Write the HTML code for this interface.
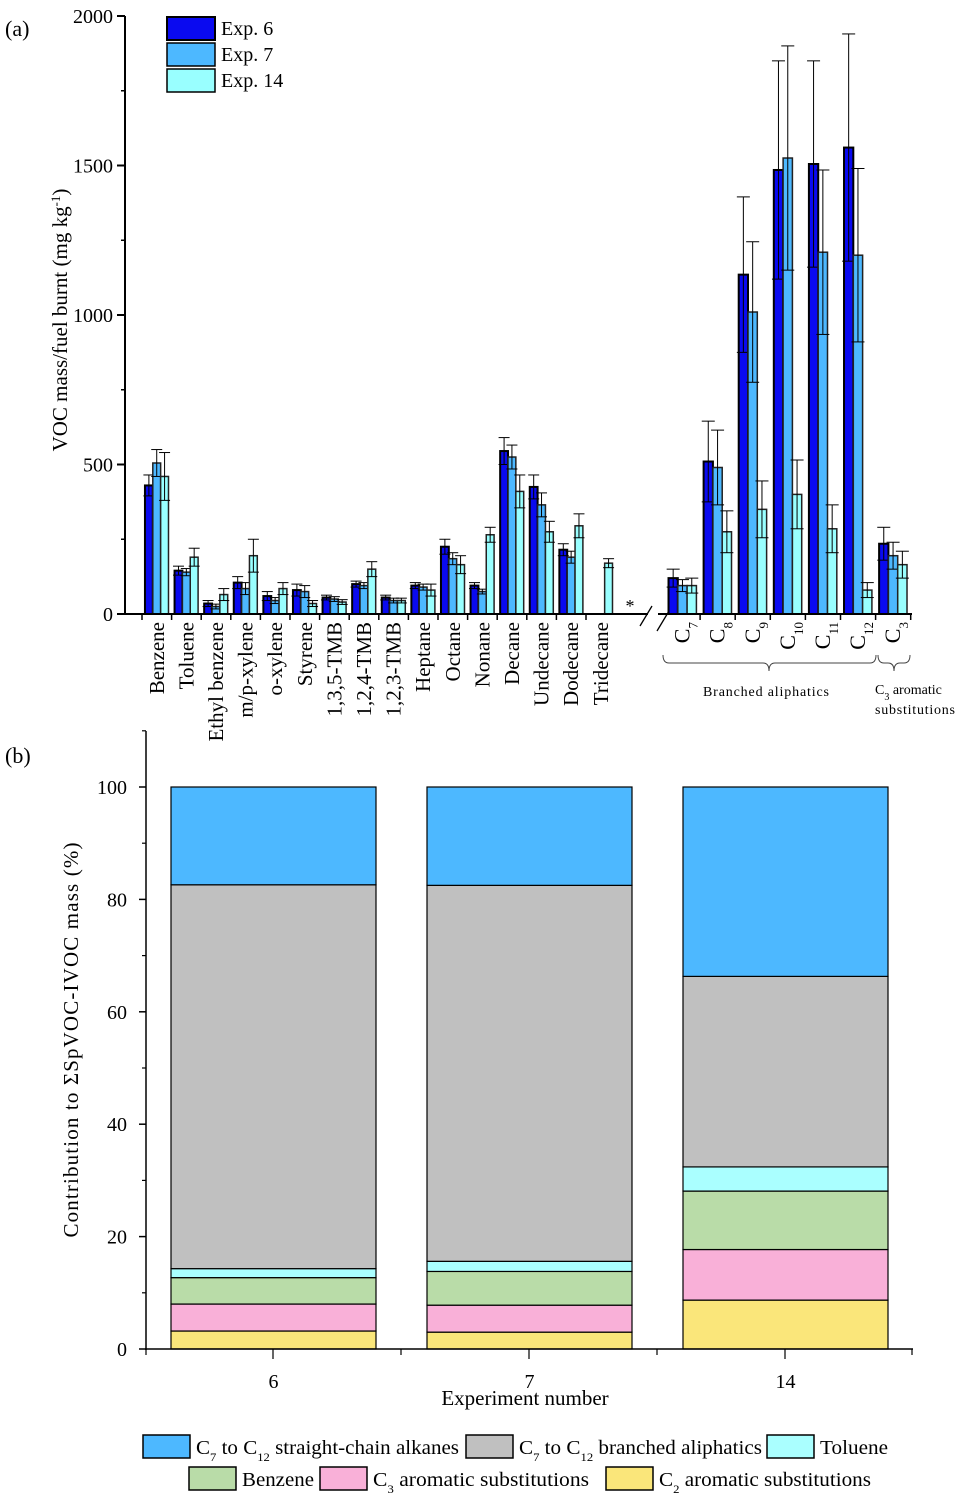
<!DOCTYPE html>
<html><head><meta charset="utf-8"><style>
body{margin:0;background:#fff}
svg{display:block;font-family:"Liberation Serif",serif}
</style></head><body>
<svg id="svg" width="963" height="1498" viewBox="0 0 963 1498" xmlns="http://www.w3.org/2000/svg">
<g id="top"></g>
<g id="bot"></g>
</svg>
<script>
const NS="http://www.w3.org/2000/svg";
// ---- Chart (a) data ----
const catsLeft=["Benzene","Toluene","Ethyl benzene","m/p-xylene","o-xylene","Styrene","1,3,5-TMB","1,2,4-TMB","1,2,3-TMB","Heptane","Octane","Nonane","Decane","Undecane","Dodecane","Tridecane"];
const catsRight=["7","8","9","10","11","12","3"];
const exp6=[430,145,35,105,60,80,55,100,55,95,225,95,545,425,215,0,120,510,1135,1485,1505,1560,235];
const exp7=[505,140,25,85,45,75,50,95,45,90,185,75,525,365,190,0,95,490,1010,1525,1210,1200,195];
const exp14=[460,190,65,195,85,35,40,150,45,80,165,265,410,275,295,170,95,275,350,400,285,80,165];
const err6=[35,15,10,20,15,20,8,10,8,10,25,10,45,40,20,0,30,135,260,365,345,380,55];
const err7=[45,12,8,20,10,20,8,10,8,10,20,8,40,40,20,0,20,125,235,375,275,290,45];
const err14=[80,30,20,55,20,10,8,25,8,20,30,25,55,35,40,15,25,70,95,115,80,25,45];
const yTicksA=[0,500,1000,1500,2000];
// ---- Chart (b) data ----
const expNames=["6","7","14"];
const c2Arom=[3.2,3.0,8.7];
const c3Arom=[4.8,4.8,9.0];
const benzene=[4.7,6.0,10.4];
const toluene=[1.6,1.8,4.3];
const branched=[68.3,66.9,33.9];
const straight=[17.4,17.5,33.7];
const yTicksB=[0,20,40,60,80,100];

function el(p,tag,attrs,txt){const e=document.createElementNS(NS,tag);for(const k in attrs)e.setAttribute(k,attrs[k]);if(txt!==undefined)e.textContent=txt;p.appendChild(e);return e;}
function rich(t,parts){parts.forEach(p=>{if(typeof p==='string')el(t,'tspan',{},p);else el(t,'tspan',{'font-size':p[1],'baseline-shift':p[2]},p[0]);});}

// ===== Chart (a) =====
const T=document.getElementById('top');
const y0A=614,yTopA=16,maxA=2000;
const yA=v=>y0A-(v/maxA)*(y0A-yTopA);
const leftX0=142,leftW=29.6,rightX0=665,rightW=35.1;
function slot(i){return i<16?{x:leftX0+i*leftW,w:leftW}:{x:rightX0+(i-16)*rightW,w:rightW};}
const colA=["#0a0af0","#4db8ff","#99ffff"];
const series=[exp6,exp7,exp14],errs=[err6,err7,err14];
for(let i=0;i<exp6.length;i++){
  const s=slot(i);const bw=s.w*0.265,off=s.w*0.1;
  for(let k=0;k<3;k++){
    const v=series[k][i];if(v<=0)continue;
    const bx=s.x+off+k*bw;
    const r=el(T,'rect',{x:bx,y:yA(v),width:bw,height:y0A-yA(v),fill:colA[k],stroke:k==0?'#000':'#222','stroke-width':k==0?2:1.5});
    
    
    const e=errs[k][i];
    if(e>0){const cx=bx+bw/2,hw=bw*0.7;
      el(T,'line',{x1:cx,x2:cx,y1:yA(v+e),y2:yA(v-e),stroke:'#000','stroke-width':1});
      el(T,'line',{x1:cx-hw,x2:cx+hw,y1:yA(v+e),y2:yA(v+e),stroke:'#000','stroke-width':1});
      el(T,'line',{x1:cx-hw,x2:cx+hw,y1:yA(v-e),y2:yA(v-e),stroke:'#000','stroke-width':1});}
  }
}
el(T,'text',{x:630,y:612,'font-size':18,'text-anchor':'middle'},'*');
// axes
el(T,'line',{x1:125,x2:125,y1:yTopA,y2:y0A+1,stroke:'#000','stroke-width':2});
el(T,'line',{x1:124,x2:648,y1:y0A,y2:y0A,stroke:'#000','stroke-width':2});
el(T,'line',{x1:658,x2:912,y1:y0A,y2:y0A,stroke:'#000','stroke-width':2});
el(T,'line',{x1:640,x2:652,y1:626,y2:606,stroke:'#000','stroke-width':1.3});
el(T,'line',{x1:657,x2:669,y1:631,y2:611,stroke:'#000','stroke-width':1.3});
yTicksA.forEach(t=>{el(T,'line',{x1:117,x2:125,y1:yA(t),y2:yA(t),stroke:'#000','stroke-width':2});
  el(T,'text',{x:113,y:yA(t)+7,'font-size':20,'text-anchor':'end'},t);
  if(t<maxA)el(T,'line',{x1:121,x2:125,y1:yA(t+250),y2:yA(t+250),stroke:'#000','stroke-width':1.5});});
for(let i=0;i<16;i++){const x=leftX0+i*leftW;el(T,'line',{x1:x,x2:x,y1:y0A,y2:y0A+6,stroke:'#000','stroke-width':1.5});}
for(let i=1;i<=7;i++){const x=rightX0+i*rightW;el(T,'line',{x1:x,x2:x,y1:y0A,y2:y0A+6,stroke:'#000','stroke-width':1.5});}
catsLeft.forEach((c,i)=>{const x=leftX0+(i+0.5)*leftW+7;
  el(T,'text',{x:0,y:0,'font-size':21,'text-anchor':'end',transform:`translate(${x},622) rotate(-90)`},c);});
catsRight.forEach((c,i)=>{const x=rightX0+(i+0.5)*rightW+7;
  const t=el(T,'text',{x:0,y:0,'font-size':22,'text-anchor':'end',transform:`translate(${x},622) rotate(-90)`});
  rich(t,['C',[c,13,'sub']]);});
// braces
el(T,'path',{d:'M663,655 q0,8 6,8 L763,663 q6,0 6,8 q0,-8 6,-8 L870,663 q6,0 6,-8',fill:'none',stroke:'#444','stroke-width':1});
el(T,'path',{d:'M878,655 q0,8 6,8 L888,663 q6,0 6,8 q0,-8 6,-8 L904,663 q6,0 6,-8',fill:'none',stroke:'#444','stroke-width':1});
el(T,'text',{x:703,y:696,'font-size':14,textLength:126},'Branched  aliphatics');
const c3t=el(T,'text',{x:875,y:694,'font-size':14});rich(c3t,['C',['3',10,'sub'],' aromatic']);
el(T,'text',{x:875,y:714,'font-size':14,textLength:80},'substitutions');
el(T,'text',{x:5,y:36,'font-size':22},'(a)');
const yl=el(T,'text',{x:0,y:0,'font-size':21,'text-anchor':'middle',transform:'translate(67,320) rotate(-90)'});
rich(yl,['VOC mass/fuel burnt (mg kg',['-1',13,'super'],')']);
['Exp. 6','Exp. 7','Exp. 14'].forEach((n,k)=>{const y=17+k*26;
  el(T,'rect',{x:167,y:y,width:48,height:23,fill:colA[k],stroke:'#000','stroke-width':k==0?2:1.5});
  el(T,'text',{x:221,y:y+18,'font-size':20},n);});

// ===== Chart (b) =====
const B=document.getElementById('bot');
const y0B=1349,y100=787;
const yB=v=>y0B-v*(y0B-y100)/100;
const barX=[171,427,683],barW=205;
const stackCols=["#fae67a","#f9b0d8","#b9dca8","#aaffff","#c0c0c0","#4db8ff"];
const stackNames=["c2-aromatic","c3-aromatic","benzene","toluene","branched","straight-chain"];
const stacks=[c2Arom,c3Arom,benzene,toluene,branched,straight];
expNames.forEach((n,i)=>{let acc=0;
  stacks.forEach((s,k)=>{const v=s[i];
    const r=el(B,'rect',{x:barX[i],y:yB(acc+v),width:barW,height:yB(acc)-yB(acc+v),fill:stackCols[k],stroke:'#000','stroke-width':1.2});
    
    
    acc+=v;});
  el(B,'text',{x:barX[i]+barW/2,y:1388,'font-size':20,'text-anchor':'middle'},n);
});
el(B,'line',{x1:146,x2:146,y1:731,y2:y0B+1,stroke:'#000','stroke-width':1.5});
el(B,'line',{x1:145,x2:913,y1:y0B,y2:y0B,stroke:'#000','stroke-width':1.5});
yTicksB.forEach(t=>{el(B,'line',{x1:139,x2:146,y1:yB(t),y2:yB(t),stroke:'#000','stroke-width':1.5});
  el(B,'text',{x:127,y:yB(t)+7,'font-size':20,'text-anchor':'end'},t);
  el(B,'line',{x1:142,x2:146,y1:yB(t+10),y2:yB(t+10),stroke:'#000','stroke-width':1.2});});
[146,401,657,912].forEach(x=>el(B,'line',{x1:x,x2:x,y1:y0B,y2:y0B+6,stroke:'#000','stroke-width':1.2}));
[273,529,785].forEach(x=>el(B,'line',{x1:x,x2:x,y1:y0B,y2:y0B+10,stroke:'#000','stroke-width':1.2}));
el(B,'text',{x:525,y:1405,'font-size':21,'text-anchor':'middle'},'Experiment number');
el(B,'text',{x:5,y:763,'font-size':22},'(b)');
el(B,'text',{x:0,y:0,'font-size':21,'text-anchor':'middle',transform:'translate(78,1040) rotate(-90)',textLength:395},'Contribution to \u03A3SpVOC-IVOC mass (%)');
function leg(x,y,col,parts,tl,name){const r=el(B,'rect',{x:x,y:y,width:47,height:23,fill:col,stroke:'#000','stroke-width':1.5});
  
  
  const t=el(B,'text',{x:x+53,y:y+19,'font-size':20,textLength:tl,lengthAdjust:'spacingAndGlyphs'});
  rich(t,parts);}
leg(143,1435,"#4db8ff",['C',['7',12,'sub'],' to C',['12',12,'sub'],' straight-chain alkanes'],263,'straight');
leg(466,1435,"#c0c0c0",['C',['7',12,'sub'],' to C',['12',12,'sub'],' branched aliphatics'],243,'branched');
leg(767,1435,"#aaffff",['Toluene'],68,'toluene');
leg(189,1467,"#b9dca8",['Benzene'],72,'benzene');
leg(320,1467,"#f9b0d8",['C',['3',12,'sub'],' aromatic  substitutions'],216,'c3');
leg(606,1467,"#fae67a",['C',['2',12,'sub'],' aromatic substitutions'],212,'c2');
</script>
</body></html>
